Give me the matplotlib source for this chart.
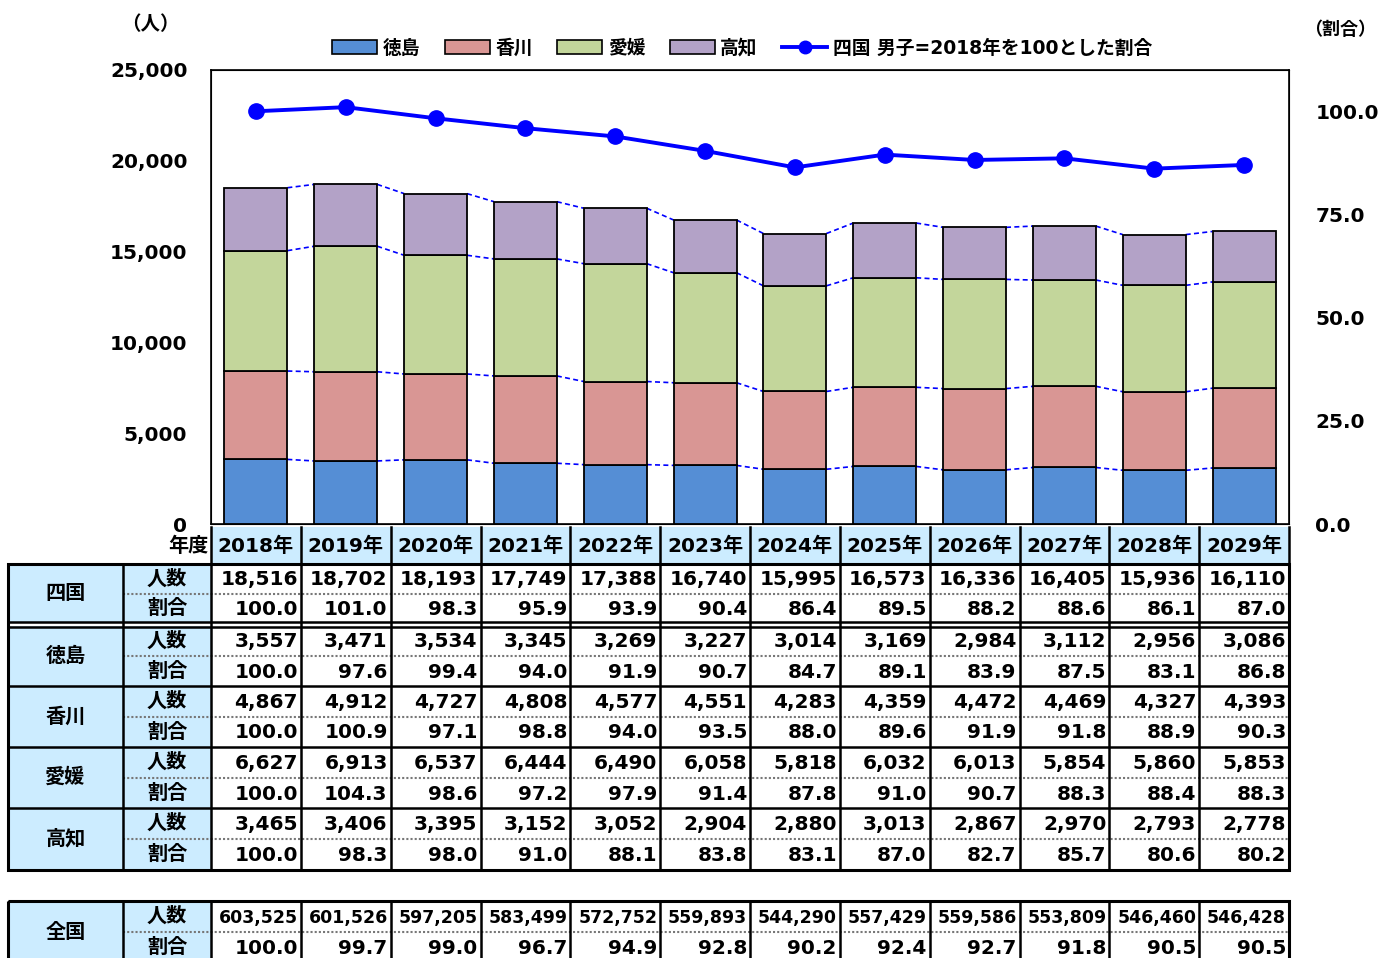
import matplotlib
matplotlib.use("Agg")
import matplotlib.pyplot as plt
from matplotlib.patches import Rectangle, Patch
from matplotlib.lines import Line2D
import numpy as np

plt.rcParams['font.family'] = ['DejaVu Sans', 'Noto Sans CJK JP']
plt.rcParams['font.weight'] = 'bold'

years = ["2018年", "2019年", "2020年", "2021年", "2022年", "2023年",
         "2024年", "2025年", "2026年", "2027年", "2028年", "2029年"]
regions = ["徳島", "香川", "愛媛", "高知"]

shikoku_n = [18516, 18702, 18193, 17749, 17388, 16740, 15995, 16573, 16336, 16405, 15936, 16110]
shikoku_r = [100.0, 101.0, 98.3, 95.9, 93.9, 90.4, 86.4, 89.5, 88.2, 88.6, 86.1, 87.0]
tokushima_n = [3557, 3471, 3534, 3345, 3269, 3227, 3014, 3169, 2984, 3112, 2956, 3086]
tokushima_r = [100.0, 97.6, 99.4, 94.0, 91.9, 90.7, 84.7, 89.1, 83.9, 87.5, 83.1, 86.8]
kagawa_n = [4867, 4912, 4727, 4808, 4577, 4551, 4283, 4359, 4472, 4469, 4327, 4393]
kagawa_r = [100.0, 100.9, 97.1, 98.8, 94.0, 93.5, 88.0, 89.6, 91.9, 91.8, 88.9, 90.3]
ehime_n = [6627, 6913, 6537, 6444, 6490, 6058, 5818, 6032, 6013, 5854, 5860, 5853]
ehime_r = [100.0, 104.3, 98.6, 97.2, 97.9, 91.4, 87.8, 91.0, 90.7, 88.3, 88.4, 88.3]
kochi_n = [3465, 3406, 3395, 3152, 3052, 2904, 2880, 3013, 2867, 2970, 2793, 2778]
kochi_r = [100.0, 98.3, 98.0, 91.0, 88.1, 83.8, 83.1, 87.0, 82.7, 85.7, 80.6, 80.2]
zenkoku_n = [603525, 601526, 597205, 583499, 572752, 559893, 544290, 557429, 559586, 553809, 546460, 546428]
zenkoku_r = [100.0, 99.7, 99.0, 96.7, 94.9, 92.8, 90.2, 92.4, 92.7, 91.8, 90.5, 90.5]

colors = ["#558ED5", "#D99694", "#C3D69B", "#B3A2C7"]
line_color = "#0000FF"
cell_blue = "#CCECFF"

W, H = 1380, 958
fig = plt.figure(figsize=(W / 100, H / 100), dpi=100)

L, R, T, B = 211, 1289, 70, 524
ax = fig.add_axes([L / W, 1 - B / H, (R - L) / W, (B - T) / H])
n = len(years)
x = np.arange(n)
bw = 0.7
series = [tokushima_n, kagawa_n, ehime_n, kochi_n]
bottom = np.zeros(n)
levels = []
for vals, c, name in zip(series, colors, regions):
    v = np.array(vals, dtype=float)
    ax.bar(x, v, bw, bottom=bottom, color=c, edgecolor="black", linewidth=1.3, zorder=3, label=name)
    bottom = bottom + v
    levels.append(bottom.copy())
for lv in levels:
    for i in range(n - 1):
        ax.plot([x[i] + bw / 2, x[i + 1] - bw / 2], [lv[i], lv[i + 1]],
                color=line_color, ls=(0, (3, 2)), lw=1.2, zorder=2)
ax.set_xlim(-0.5, n - 0.5)
ax.set_ylim(0, 25000)
ax.set_yticks(range(0, 25001, 5000))
ax.set_yticklabels([f"{v:,}" for v in range(0, 25001, 5000)], fontsize=14.5, fontweight="bold")
ax.tick_params(axis="y", length=0, pad=17)
ax.set_xticks([])
for s in ax.spines.values():
    s.set_linewidth(1.2)
    s.set_color("black")

ax2 = ax.twinx()
ax2.plot(x, shikoku_r, color=line_color, lw=2.8, marker="o", ms=11, zorder=5)
ax2.set_ylim(0, 110)
ax2.set_yticks([0, 25, 50, 75, 100])
ax2.set_yticklabels([f"{v:.1f}" for v in [0, 25, 50, 75, 100]], fontsize=14.5, fontweight="bold")
ax2.tick_params(axis="y", length=0, pad=19)
ax2.set_xlim(-0.5, n - 0.5)

handles = [Patch(facecolor=c, edgecolor="black", linewidth=1.2) for c in colors]
handles.append(Line2D([0], [0], color=line_color, lw=2.8, marker="o", ms=9))
labels = regions + ["四国 男子=2018年を100とした割合"]
fig.legend(handles, labels, loc="center", bbox_to_anchor=(742 / W, 1 - 48 / H), ncol=5,
           frameon=False, handlelength=2.4, handleheight=0.8,
           handletextpad=0.3, columnspacing=1.3, prop={"weight": "bold", "size": 13.5})

fig.text(150 / W, 1 - 25 / H, "（人）", ha="center", va="center", fontsize=14, fontweight="bold")
fig.text(1376 / W, 1 - 30 / H, "（割合）", ha="right", va="center", fontsize=13, fontweight="bold")

# ---- table overlay ----
t = fig.add_axes([0, 0, 1, 1], zorder=10)
t.set_xlim(0, W)
t.set_ylim(H, 0)
t.axis("off")

cw = (R - L) / n
xs = [L + i * cw for i in range(n + 1)]
fs = 14.5

# header row
hy0, hy1 = 527, 563
for i in range(n):
    t.add_patch(Rectangle((xs[i], hy0), cw, hy1 - hy0, facecolor=cell_blue, edgecolor="none"))
    t.text((xs[i] + xs[i + 1]) / 2, (hy0 + hy1) / 2 + 1, years[i], ha="center", va="center",
           fontsize=fs, fontweight="bold")
for xv in xs:
    t.plot([xv, xv], [hy0, hy1], color="black", lw=1.8)
t.text(208, (hy0 + hy1) / 2 + 1, "年度", ha="right", va="center", fontsize=fs, fontweight="bold")

x0, xc1, xc2 = 8, 123, L


def draw_block(name, top, h1, h2, nvals, rvals, num_fs, count_fmt):
    mid = top + h1
    bot = mid + h2
    t.add_patch(Rectangle((x0, top), xc2 - x0, bot - top, facecolor=cell_blue, edgecolor="none"))
    t.text((x0 + xc1) / 2, (top + bot) / 2, name, ha="center", va="center", fontsize=fs, fontweight="bold")
    t.text((xc1 + xc2) / 2, (top + mid) / 2, "人数", ha="center", va="center", fontsize=fs, fontweight="bold")
    t.text((xc1 + xc2) / 2, (mid + bot) / 2, "割合", ha="center", va="center", fontsize=fs, fontweight="bold")
    for i in range(n):
        t.text(xs[i + 1] - 3, (top + mid) / 2 + 1, count_fmt(nvals[i]), ha="right", va="center",
               fontsize=num_fs, fontweight="bold")
        t.text(xs[i + 1] - 3, (mid + bot) / 2 + 1, f"{rvals[i]:.1f}", ha="right", va="center",
               fontsize=fs, fontweight="bold")
    t.plot([xc1, R], [mid, mid], color="#777777", lw=1.5, ls=(0, (1, 1)))
    return bot


fmt = lambda v: f"{v:,}"
blocks = [("四国", shikoku_n, shikoku_r), ("徳島", tokushima_n, tokushima_r),
          ("香川", kagawa_n, kagawa_r), ("愛媛", ehime_n, ehime_r), ("高知", kochi_n, kochi_r)]
tops = [564, 626, 686, 747, 808]
heights = [(30, 29), (30, 30), (31, 30), (31, 30), (31, 31)]
for (nm, nv, rv), tp, (h1, h2) in zip(blocks, tops, heights):
    draw_block(nm, tp, h1, h2, nv, rv, fs, fmt)

gtop, gbot = 564, 870
for xv in [xc1, xc2] + xs[1:-1]:
    t.plot([xv, xv], [gtop, gbot], color="black", lw=1.8)
t.add_patch(Rectangle((x0, gtop), R - x0, gbot - gtop, facecolor="none", edgecolor="black", lw=2.2))
t.plot([x0, R], [622, 622], color="black", lw=1.8)
t.plot([x0, R], [626.5, 626.5], color="black", lw=1.8)
for yv in [686, 747, 808]:
    t.plot([x0, R], [yv, yv], color="black", lw=1.8)

# 全国 block
ztop = 901
zb = draw_block("全国", ztop, 31, 31, zenkoku_n, zenkoku_r, 12.5, fmt)
for xv in [xc1, xc2] + xs[1:-1]:
    t.plot([xv, xv], [ztop, zb], color="black", lw=1.8)
t.add_patch(Rectangle((x0, ztop), R - x0, zb - ztop, facecolor="none", edgecolor="black", lw=2.2))

fig.savefig("out.png", dpi=100)
